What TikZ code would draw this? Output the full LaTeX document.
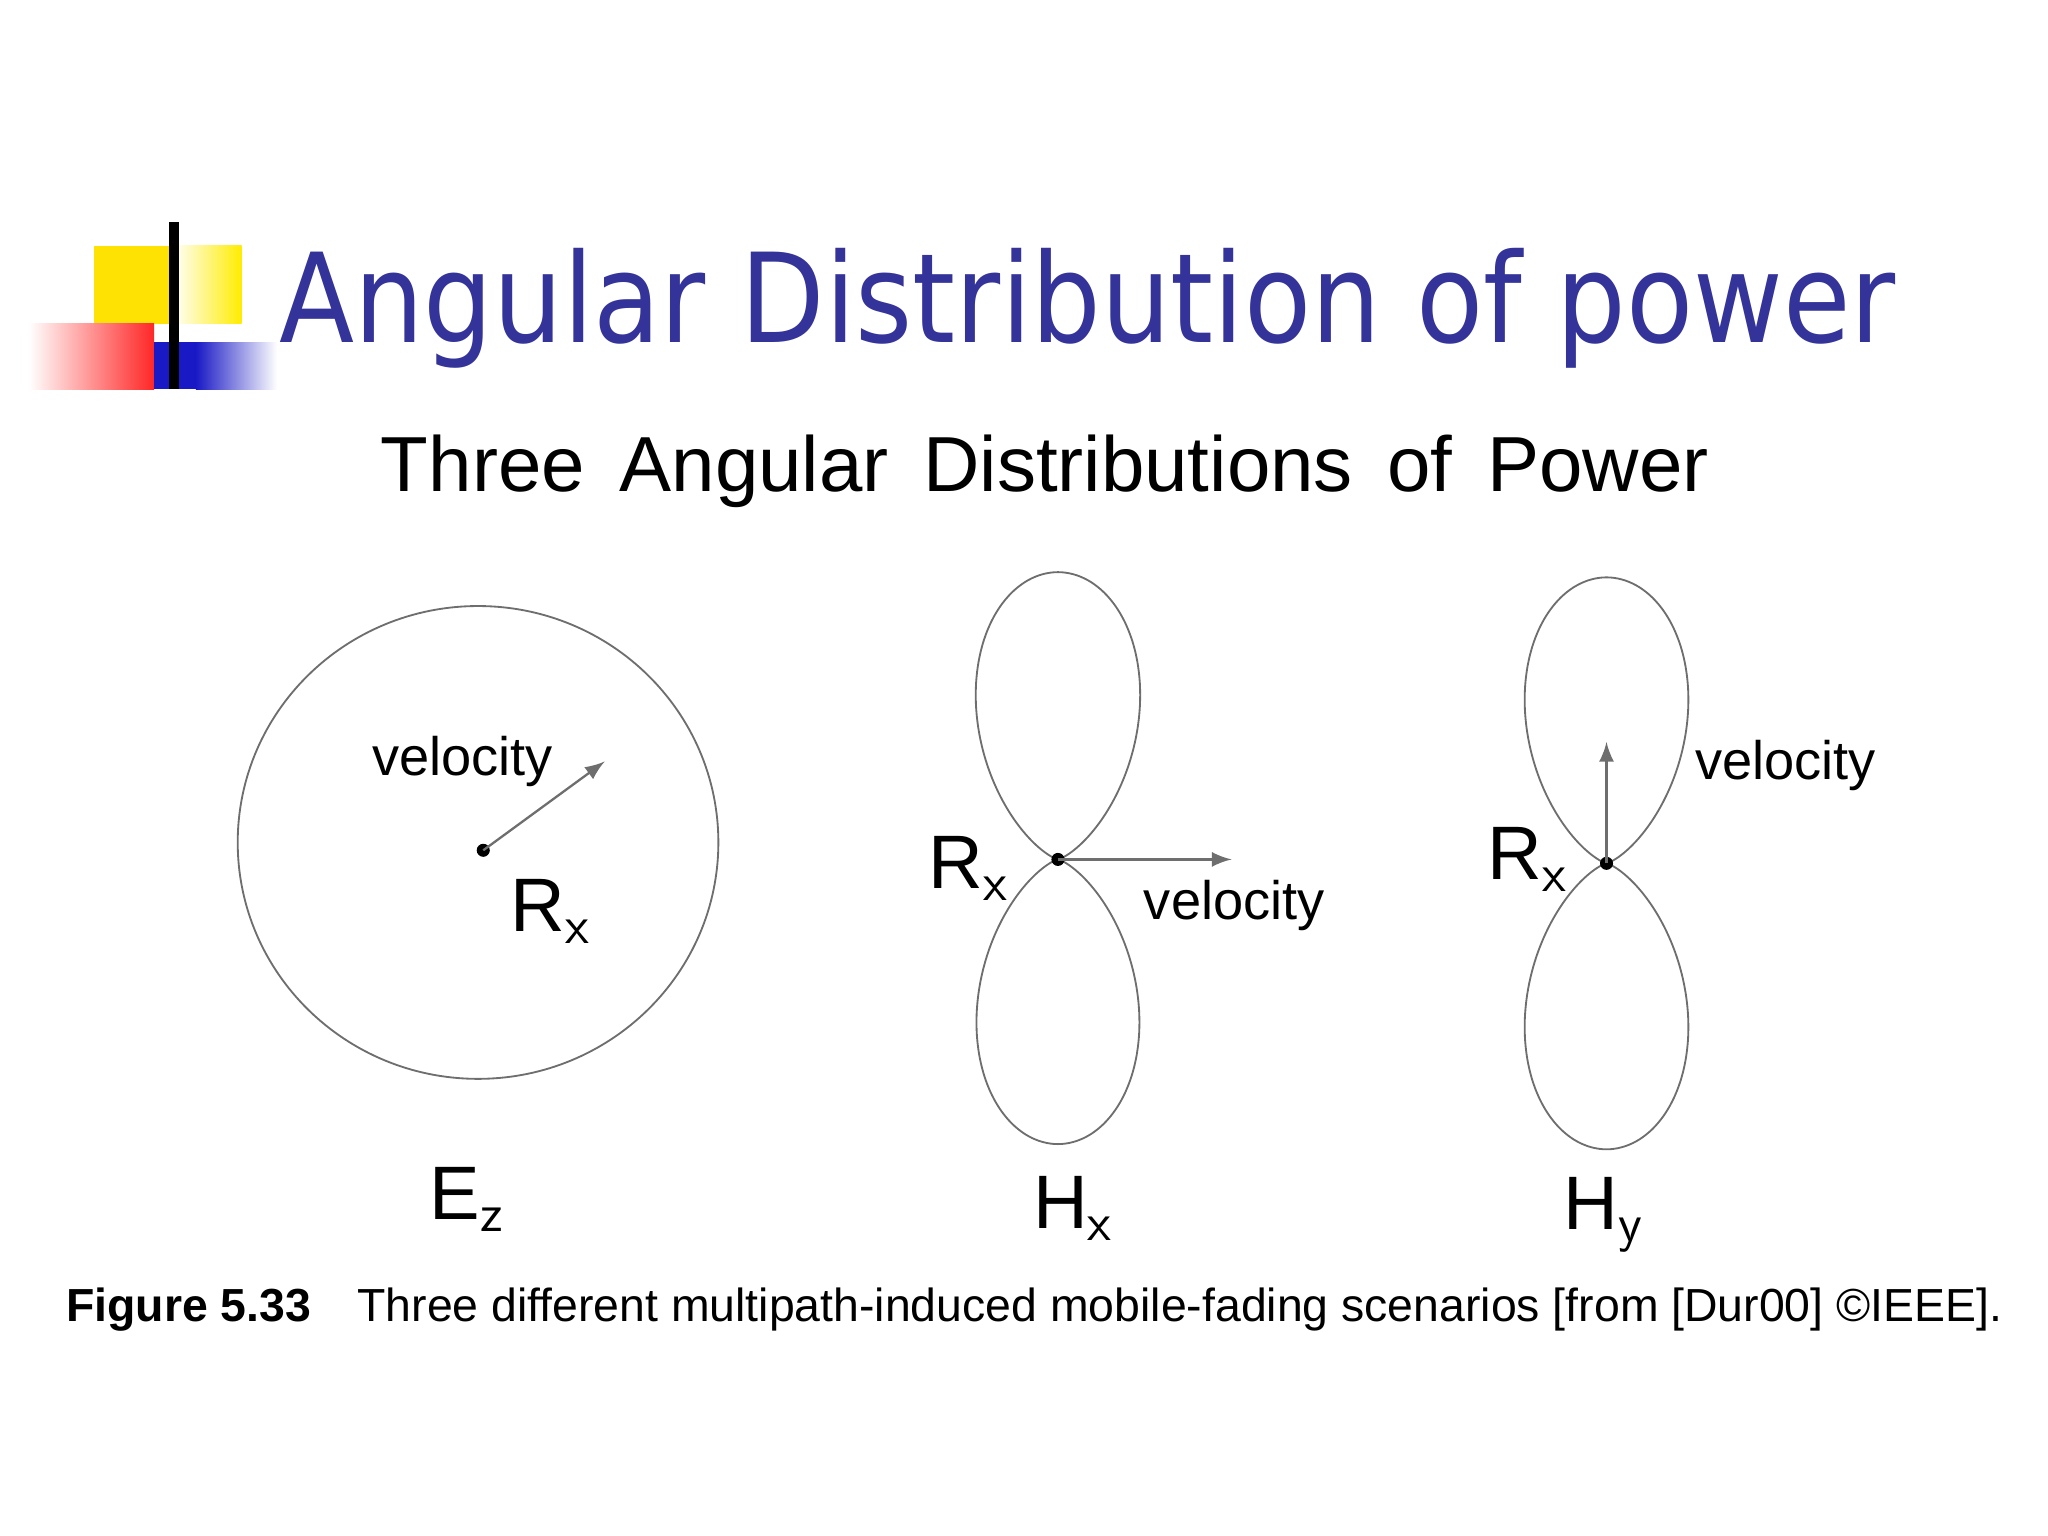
\documentclass[tikz,border=0pt]{standalone}
\usepackage{fontspec}
\setmainfont{Liberation Sans}
\newfontfamily\titlefont{DejaVu Sans}
\definecolor{ttl}{RGB}{51,51,153}
\definecolor{lin}{RGB}{110,110,110}
\begin{document}
\begin{tikzpicture}[x=0.01cm,y=-0.01cm,
  lobe/.style={draw=lin,line width=0.4pt},
  lbl/.style={font=\fontsize{16.5}{18}\selectfont,inner sep=0pt},
  vlbl/.style={font=\fontsize{11.8}{13}\selectfont,inner sep=0pt},
  arr/.style={draw=lin,line width=0.5pt,-latex}]
\useasboundingbox (0,0) rectangle (1568,1176);
% logo
\fill[yellow!85!orange] (72,188) rectangle (132,248);
\shade[left color=white,right color=yellow!85!orange] (132,188) rectangle (185,248);
\shade[left color=white,right color=red!85] (22,248) rectangle (118,298);
\fill[blue!75!black!90] (118,262) rectangle (150,298);
\shade[left color=blue!75!black!90,right color=white] (150,262) rectangle (212,298);
\draw[line width=2.2pt] (133,170) -- (133,298);
\node[anchor=base west,inner sep=0pt,text=ttl,font=\titlefont\fontsize{27}{30}\selectfont] (title) at (213,262) {\scalebox{0.885}[1]{Angular Distribution of power}};
\node[lbl,anchor=base,font=\fontsize{17}{18}\selectfont] (sub) at (800,376) {Three\, Angular\, Distributions\, of\, Power};
% circle
\draw[lobe] (366,645) ellipse (184 and 181);
\fill (370,651) circle (5) coordinate (c1);
\coordinate (v1) at (463,583);
\draw[arr] (c1) -- (v1);
\node[vlbl] (vel1) at (354,583) {velocity};
\node[lbl] (rx1) at (422,698) {R$_{\mathsf x}$};
\node[lbl] (ez) at (358,918) {E$_{\mathsf z}$};
% lobes 2
\coordinate (c2) at (810,658);
\draw[lobe,shift={(c2)}] plot[domain=-90:90,samples=120,smooth] ({220*sin(\x)*cos(\x)^4},{-220*cos(\x)^5});
\draw[lobe,shift={(c2)}] plot[domain=-90:90,samples=120,smooth] ({218*sin(\x)*cos(\x)^4},{218*cos(\x)^5});
\fill (c2) circle (5);
\coordinate (v2) at (943,658);
\draw[arr] (c2) -- (v2);
\node[vlbl] (vel2) at (945,693) {velocity};
\node[lbl] (rx2) at (742,665) {R$_{\mathsf x}$};
\node[lbl] (hx) at (822,925) {H$_{\mathsf x}$};
% lobes 3
\coordinate (c3) at (1230,661);
\draw[lobe,shift={(c3)}] plot[domain=-90:90,samples=120,smooth] ({219*sin(\x)*cos(\x)^4},{-219*cos(\x)^5});
\draw[lobe,shift={(c3)}] plot[domain=-90:90,samples=120,smooth] ({219*sin(\x)*cos(\x)^4},{219*cos(\x)^5});
\fill (c3) circle (5);
\coordinate (v3) at (1230,568);
\draw[arr] (c3) -- (v3);
\node[vlbl] (vel3) at (1367,586) {velocity};
\node[lbl] (rx3) at (1170,658) {R$_{\mathsf x}$};
\node[lbl] (hy) at (1228,930) {H$_{\mathsf y}$};
% caption
\node[anchor=base west,inner sep=0pt,font=\fontsize{10.1}{12}\selectfont] (cap) at (50,1012) {\textbf{Figure 5.33}\quad Three different multipath-induced mobile-fading scenarios [from [Dur00] ©IEEE].};
\end{tikzpicture}
\end{document}
